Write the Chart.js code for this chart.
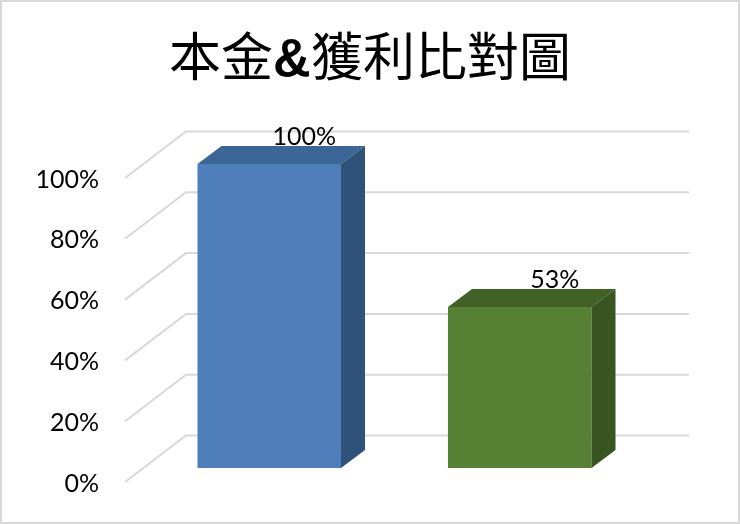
<!DOCTYPE html>
<html>
<head>
<meta charset="utf-8">
<style>
@font-face{font-family:"AmpBold";src:local("Liberation Sans Bold"),local("LiberationSans-Bold");unicode-range:U+26;}
html,body{margin:0;padding:0;background:#fff;}
canvas{display:block;}
</style>
<script src="https://cdn.jsdelivr.net/npm/chart.js@4"></script>
</head>
<body>
<canvas id="c" width="740" height="524"></canvas>
<script>
const titleText = '本金&獲利比對圖';
const categories = ['本金', '獲利'];
const values = [100, 53];
const frontColors = ['#4f7fbb', '#568135'];
const topColors = ['#3c6695', '#416127'];
const sideColors = ['#30527a', '#385522'];
const LABEL_FONT = '"Lato","Open Sans",sans-serif';

const depth3d = {
  id: 'depth3d',
  beforeDraw(chart) {
    const ctx = chart.ctx;
    ctx.save();
    ctx.fillStyle = '#fff';
    ctx.fillRect(0, 0, chart.width, chart.height);
    ctx.strokeStyle = '#d9d9d9';
    ctx.lineWidth = 2;
    ctx.strokeRect(1, 1, chart.width - 2, chart.height - 2);
    ctx.restore();
  },
  beforeDatasetsDraw(chart) {
    const ctx = chart.ctx, y = chart.scales.y, a = chart.chartArea;
    ctx.save();
    ctx.strokeStyle = '#d9d9d9';
    ctx.lineWidth = 2;
    ctx.lineJoin = 'miter';
    y.ticks.forEach(t => {
      const p = y.getPixelForValue(t.value);
      ctx.beginPath();
      ctx.moveTo(a.left - 19, p + 14);
      ctx.lineTo(a.left + 42, p - 32.5);
      ctx.lineTo(a.right + 44, p - 32.5);
      ctx.stroke();
    });
    ctx.restore();
  },
  afterDatasetsDraw(chart) {
    const ctx = chart.ctx, dx = 24, dy = 18;
    const meta = chart.getDatasetMeta(0);
    ctx.save();
    meta.data.forEach((bar, i) => {
      const l = bar.x - bar.width / 2, r = bar.x + bar.width / 2, t = bar.y, b = bar.base;
      ctx.fillStyle = topColors[i];
      ctx.beginPath();
      ctx.moveTo(l, t); ctx.lineTo(l + dx, t - dy); ctx.lineTo(r + dx, t - dy); ctx.lineTo(r, t);
      ctx.closePath(); ctx.fill();
      ctx.fillStyle = sideColors[i];
      ctx.beginPath();
      ctx.moveTo(r, t); ctx.lineTo(r + dx, t - dy); ctx.lineTo(r + dx, b - dy); ctx.lineTo(r, b);
      ctx.closePath(); ctx.fill();
      ctx.fillStyle = '#000';
      ctx.font = '25px ' + LABEL_FONT;
      ctx.textAlign = 'center';
      ctx.textBaseline = 'middle';
      ctx.fillText(values[i] + '%', bar.x + 35, t - 27);
    });
    ctx.restore();
  }
};

function noMargins(s, w) {
  s.width = w;
  s.paddingTop = 0;
  s.paddingBottom = 0;
}

function draw() {
  new Chart(document.getElementById('c'), {
    type: 'bar',
    data: {
      labels: categories,
      datasets: [{
        data: values,
        backgroundColor: frontColors,
        borderWidth: 0,
        barPercentage: 0.573,
        categoryPercentage: 1
      }]
    },
    plugins: [depth3d],
    options: {
      responsive: false,
      animation: false,
      devicePixelRatio: 1,
      layout: { padding: { top: 0, right: 0, bottom: 56, left: 0 } },
      plugins: {
        legend: { display: false },
        tooltip: { enabled: false },
        title: {
          display: true,
          text: titleText,
          color: '#000',
          font: { family: '"AmpBold","Noto Sans CJK TC"', size: 52, weight: 'normal', lineHeight: 1.2 },
          padding: { top: 25, bottom: 76.6 }
        }
      },
      scales: {
        x: { display: false },
        y: {
          min: 0,
          max: 100,
          afterFit(s) { noMargins(s, 144); },
          border: { display: false },
          grid: { display: false, drawTicks: false },
          ticks: {
            stepSize: 20,
            padding: 45,
            labelOffset: 15.5,
            color: '#000',
            font: { family: LABEL_FONT, size: 25 },
            callback: v => v + '%'
          }
        },
        yRight: {
          position: 'right',
          min: 0,
          max: 100,
          afterFit(s) { noMargins(s, 95); },
          border: { display: false },
          grid: { display: false, drawTicks: false },
          ticks: { display: false }
        }
      }
    }
  });
}
document.fonts.load('52px "AmpBold"', '&').then(draw, draw);
</script>
</body>
</html>
